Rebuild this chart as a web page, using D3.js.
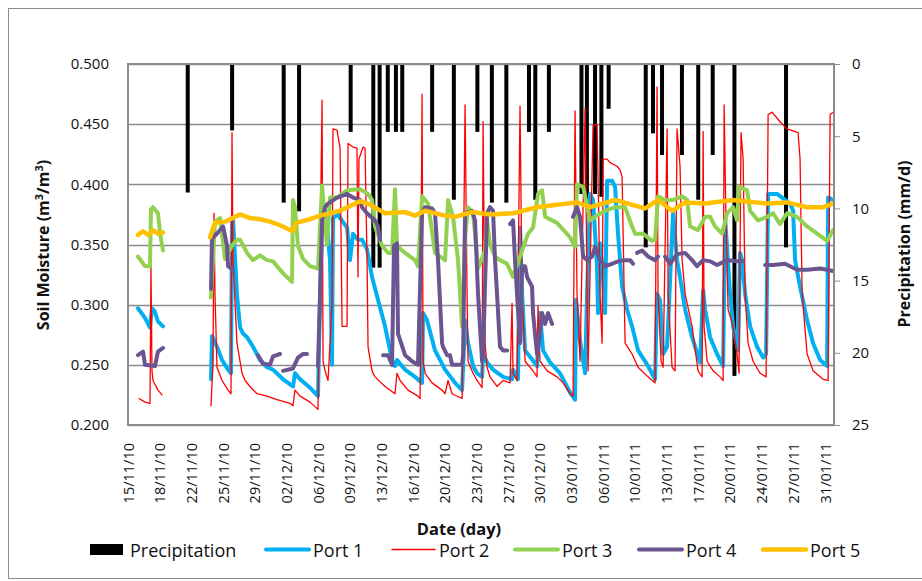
<!DOCTYPE html>
<html>
<head>
<meta charset="utf-8">
<script src="https://cdn.jsdelivr.net/npm/d3@7"></script>
<style>
  body { margin: 0; background: #fff; }
  svg { display: block; font-family: "Open Sans", "Noto Sans", sans-serif; }
</style>
</head>
<body>
<div id="chart"></div>
<script>
// days since 15/11/2010, value
var startDate = new Date(2010, 10, 15);
var endDate = new Date(2011, 1, 1);

var precipitation = [
  [6.6, 8.9], [11.5, 4.6], [17.2, 9.6], [18.9, 10.2], [24.6, 4.7], [27.1, 14.1], [27.8, 14.1],
  [28.7, 4.7], [29.6, 4.7], [30.3, 4.7], [33.6, 4.7], [36.0, 9.4], [38.6, 4.7], [40.2, 9.6],
  [41.8, 9.6], [44.3, 4.7], [45.0, 9.4], [46.5, 4.7], [50.1, 9.0], [50.7, 9.4], [51.6, 9.0],
  [52.3, 9.2], [53.1, 3.1], [57.2, 12.7], [58.0, 4.8], [59.0, 6.3], [61.2, 6.3], [63.0, 9.4],
  [64.6, 6.3], [67.0, 21.6], [72.7, 12.7]
];

var port1 = [
  [1.10,0.297],[1.88,0.289],[2.43,0.281],[2.65,0.297],[2.98,0.294],[3.31,0.286],[3.87,0.282], null,
  [9.17,0.238],[9.28,0.274],[9.83,0.265],[10.39,0.254],[11.05,0.246],[11.38,0.243],[11.49,0.370],[11.60,0.372],
  [12.04,0.308],[12.38,0.281],[12.71,0.276],[13.15,0.273],[13.81,0.265],[14.59,0.254],[15.36,0.248],[16.02,0.246],
  [17.13,0.238],[18.23,0.232],[18.45,0.243],[19.01,0.238],[20.11,0.231],[20.99,0.224],[21.22,0.309],[21.44,0.372],
  [21.77,0.378],[21.99,0.364],[22.32,0.337],[22.54,0.250],[22.65,0.372],[23.20,0.375],[23.43,0.372],[24.20,0.364],
  [24.53,0.337],[24.86,0.359],[25.41,0.354],[25.86,0.354],[26.41,0.346],[26.96,0.323],[27.62,0.304],[28.40,0.282],
  [29.17,0.254],[29.50,0.249],[29.72,0.254],[30.61,0.246],[31.71,0.240],[32.49,0.235],[32.60,0.293],[33.04,0.287],
  [33.92,0.262],[35.03,0.246],[36.13,0.235],[36.91,0.229],[37.24,0.287],[37.57,0.268],[38.12,0.249],[38.56,0.243],
  [39.12,0.240],[39.23,0.259],[39.67,0.252],[40.33,0.246],[41.44,0.240],[42.43,0.238],[42.54,0.246],[43.09,0.238],
  [43.31,0.364],[43.54,0.309],[43.87,0.262],[45.19,0.249],[45.52,0.293],[45.86,0.262],[46.63,0.252],[47.73,0.243],
  [48.84,0.227],[49.39,0.221],[49.50,0.304],[49.94,0.270],[50.50,0.243],[50.72,0.309],[51.05,0.392],[51.38,0.387],
  [51.82,0.332],[51.93,0.293],[52.15,0.351],[52.49,0.323],[52.71,0.293],[52.93,0.403],[53.48,0.403],[53.81,0.398],
  [54.14,0.359],[54.59,0.315],[55.14,0.296],[55.69,0.282],[56.35,0.262],[57.46,0.249],[58.23,0.238],[58.45,0.309],
  [58.78,0.304],[59.12,0.259],[59.56,0.265],[60.22,0.376],[60.66,0.337],[60.99,0.323],[61.55,0.296],[62.32,0.273],
  [63.20,0.252],[63.54,0.312],[63.76,0.296],[64.31,0.273],[65.08,0.259],[65.75,0.249],[65.97,0.372],[66.52,0.309],
  [66.85,0.282],[67.40,0.262],[67.62,0.343],[67.85,0.337],[68.18,0.309],[68.73,0.282],[69.50,0.265],[70.17,0.256],
  [70.50,0.259],[70.72,0.392],[71.71,0.392],[73.15,0.384],[73.48,0.378],[73.70,0.337],[74.25,0.315],[75.03,0.287],
  [75.69,0.268],[76.46,0.254],[77.24,0.249],[77.35,0.389],[77.90,0.387]
];

var port2 = [
  [1.22,0.222],[1.88,0.219],[2.43,0.218],[2.54,0.331],[2.65,0.245],[2.76,0.237],[3.31,0.229],[3.76,0.225], null,
  [9.17,0.216],[9.39,0.253],[9.50,0.376],[9.61,0.309],[9.83,0.248],[10.39,0.237],[11.05,0.229],[11.38,0.226],
  [11.49,0.443],[11.60,0.337],[12.04,0.268],[12.60,0.243],[12.93,0.237],[13.48,0.232],[14.25,0.226],[15.36,0.224],
  [16.46,0.221],[17.90,0.218],[18.23,0.216],[18.45,0.229],[19.01,0.224],[20.11,0.219],[20.99,0.213],[21.44,0.470],
  [21.55,0.253],[21.77,0.245],[22.10,0.237],[22.54,0.300],[22.65,0.446],[23.09,0.445],[23.43,0.430],[23.65,0.282],
  [24.20,0.282],[24.31,0.434],[24.86,0.431],[25.30,0.430],[25.41,0.323],[25.52,0.421],[25.97,0.431],[26.19,0.430],
  [26.41,0.337],[26.52,0.265],[26.96,0.245],[27.29,0.240],[28.40,0.232],[29.50,0.226],[29.72,0.243],[30.06,0.237],
  [30.94,0.229],[32.04,0.224],[32.27,0.222],[32.49,0.475],[32.60,0.253],[32.82,0.243],[33.59,0.235],[34.70,0.229],
  [35.03,0.226],[35.36,0.237],[35.80,0.226],[36.91,0.222],[37.24,0.466],[37.46,0.309],[37.57,0.253],[38.12,0.243],
  [38.56,0.237],[39.12,0.231],[39.23,0.452],[39.45,0.268],[39.67,0.248],[40.00,0.240],[40.77,0.232],[41.44,0.237],
  [42.21,0.235],[42.43,0.301],[42.54,0.243],[42.98,0.237],[43.31,0.465],[43.54,0.309],[43.87,0.253],[44.75,0.245],
  [45.19,0.240],[45.30,0.299],[45.52,0.253],[46.30,0.245],[47.40,0.240],[48.07,0.235],[48.84,0.226],[49.17,0.224],
  [49.39,0.461],[49.61,0.309],[49.94,0.253],[50.50,0.463],[50.72,0.309],[50.83,0.245],[51.38,0.449],[51.82,0.450],
  [51.93,0.406],[52.15,0.309],[52.38,0.268],[52.49,0.421],[52.93,0.421],[53.26,0.418],[54.03,0.415],[54.36,0.412],
  [54.59,0.406],[54.92,0.268],[55.69,0.259],[56.35,0.248],[57.46,0.240],[58.23,0.235],[58.45,0.481],[58.56,0.309],
  [58.90,0.253],[59.12,0.248],[59.56,0.446],[59.67,0.309],[60.11,0.248],[60.44,0.245],[60.66,0.446],[60.99,0.415],
  [61.22,0.337],[61.55,0.309],[62.32,0.282],[62.98,0.245],[63.43,0.240],[63.54,0.444],[63.65,0.282],[63.98,0.253],
  [64.64,0.245],[65.41,0.240],[65.75,0.237],[65.86,0.466],[66.08,0.364],[66.30,0.296],[66.85,0.282],[67.29,0.259],
  [67.51,0.243],[67.73,0.443],[67.96,0.421],[68.18,0.309],[68.51,0.268],[69.06,0.253],[69.83,0.243],[70.50,0.240],
  [70.72,0.458],[71.16,0.460],[72.04,0.452],[72.82,0.446],[74.03,0.443],[74.25,0.421],[74.48,0.309],[75.03,0.259],
  [75.69,0.245],[76.80,0.238],[77.35,0.237],[77.57,0.458],[77.90,0.460]
];

var port3 = [
  [1.10,0.340],[1.88,0.332],[2.43,0.332],[2.54,0.379],[2.76,0.381],[3.31,0.376],[3.54,0.359],[3.87,0.345], null,
  [9.17,0.306],[9.61,0.369],[10.17,0.372],[10.72,0.338],[11.49,0.349],[12.04,0.354],[12.38,0.354],[13.15,0.343],
  [13.81,0.337],[14.59,0.341],[15.36,0.337],[16.02,0.336],[17.13,0.326],[18.12,0.319],[18.23,0.387],[18.45,0.381],
  [18.78,0.349],[19.34,0.338],[20.11,0.332],[20.99,0.330],[21.44,0.399],[21.99,0.350],[22.32,0.389],[23.09,0.389],
  [24.20,0.395],[25.64,0.396],[26.52,0.392],[26.96,0.387],[27.29,0.365],[28.07,0.349],[28.73,0.343],[29.17,0.343],
  [29.50,0.396],[29.72,0.349],[30.61,0.343],[31.71,0.337],[32.04,0.332],[32.49,0.390],[33.15,0.384],[33.92,0.343],
  [35.03,0.337],[35.36,0.387],[35.91,0.373],[36.46,0.337],[36.91,0.282],[37.24,0.356],[37.57,0.381],[38.12,0.376],
  [38.34,0.359],[38.67,0.330],[39.45,0.345],[39.67,0.370],[40.00,0.350],[40.55,0.340],[41.10,0.337],[41.88,0.334],
  [42.54,0.323],[43.31,0.340],[44.20,0.359],[44.75,0.364],[45.30,0.392],[45.75,0.395],[46.08,0.373],[47.40,0.368],
  [48.84,0.356],[49.39,0.348],[49.61,0.400],[50.28,0.398],[51.05,0.370],[51.60,0.373],[52.71,0.378],[53.81,0.381],
  [54.92,0.381],[55.69,0.365],[56.02,0.359],[56.91,0.359],[57.90,0.353],[58.23,0.354],[58.56,0.390],[59.34,0.387],
  [60.22,0.387],[61.22,0.390],[61.77,0.387],[62.10,0.365],[62.98,0.362],[63.76,0.373],[64.31,0.373],[64.86,0.365],
  [65.64,0.359],[66.19,0.376],[66.85,0.381],[67.29,0.370],[67.51,0.398],[68.40,0.395],[68.73,0.378],[69.61,0.370],
  [70.61,0.373],[71.27,0.376],[72.04,0.367],[72.82,0.376],[73.92,0.373],[75.03,0.365],[76.13,0.359],[77.24,0.353],
  [77.90,0.362]
];

var port4 = [
  [1.10,0.258],[1.66,0.261],[1.88,0.250],[2.98,0.249],[3.31,0.261],[3.87,0.264], null,
  [9.17,0.313],[9.28,0.355],[9.94,0.360],[10.50,0.365],[10.94,0.349],[11.05,0.332],[11.60,0.329], null,
  [14.36,0.258],[14.92,0.251],[15.69,0.250],[16.02,0.257],[16.80,0.259], null,
  [17.13,0.245],[18.23,0.247],[18.78,0.256],[19.34,0.259],[19.78,0.259], null,
  [20.99,0.249],[21.22,0.308],[21.44,0.370],[21.77,0.381],[22.10,0.384],[23.09,0.389],[24.20,0.392],[24.86,0.389],
  [25.64,0.387],[25.86,0.381],[26.41,0.376],[27.29,0.370],[27.62,0.365],[27.85,0.354], null,
  [28.18,0.258],[28.73,0.258],[29.17,0.250],[29.39,0.349],[29.72,0.351],[29.83,0.276],[30.61,0.258],[31.38,0.253],
  [32.04,0.250],[32.49,0.376],[32.82,0.381],[33.59,0.380],[33.92,0.376],[34.25,0.337],[34.70,0.268],[34.81,0.265],
  [35.25,0.258],[35.58,0.258],[35.80,0.250],[36.91,0.250],[37.02,0.258],[37.24,0.376],[38.01,0.378],[38.34,0.370],
  [38.67,0.309],[39.12,0.253],[39.23,0.258],[39.67,0.376],[40.00,0.381],[40.33,0.378],[40.55,0.337],[40.77,0.309],
  [41.10,0.265],[41.44,0.262],[41.88,0.262], null,
  [42.21,0.367],[42.54,0.370],[42.76,0.337],[42.98,0.309],[43.31,0.268],[43.54,0.332],[43.87,0.332],[44.09,0.323],
  [44.64,0.315],[44.75,0.293],[45.19,0.259],[45.30,0.262],[45.75,0.293],[46.08,0.284],[46.41,0.293],[46.85,0.284], null,
  [49.17,0.373],[49.61,0.381],[49.94,0.373],[50.28,0.340],[50.72,0.337],[51.27,0.340],[51.60,0.348],[52.15,0.337],
  [52.71,0.332],[53.48,0.334],[54.14,0.336],[54.92,0.337],[55.47,0.337],[55.80,0.334], null,
  [56.24,0.343],[56.80,0.345],[57.46,0.340],[58.23,0.337],[58.56,0.340], null,
  [59.34,0.340],[59.89,0.334],[60.66,0.342],[61.55,0.343],[62.32,0.337],[62.87,0.332],[63.54,0.337],[64.31,0.336],
  [65.08,0.333],[66.19,0.337],[67.29,0.336],[67.96,0.336], null,
  [70.39,0.333],[71.27,0.333],[72.60,0.334],[73.92,0.329],[75.03,0.329],[76.46,0.330],[77.90,0.328]
];

var port5 = [
  [1.10,0.358],[1.66,0.361],[2.21,0.358],[2.76,0.362],[3.31,0.359],[3.87,0.360], null,
  [9.06,0.356],[9.61,0.368],[10.72,0.369],[12.38,0.375],[13.48,0.372],[14.59,0.371],[15.69,0.369],[16.80,0.366],
  [18.23,0.361],[18.56,0.368],[20.11,0.371],[21.22,0.374],[22.32,0.376],[23.43,0.378],[24.53,0.382],[25.64,0.386],
  [26.52,0.384],[28.40,0.376],[30.61,0.377],[31.71,0.374],[32.82,0.378],[35.03,0.374],[36.13,0.373],[38.01,0.377],
  [40.00,0.375],[42.54,0.376],[45.19,0.381],[47.40,0.383],[49.61,0.385],[51.05,0.381],[53.81,0.387],[57.13,0.380],
  [58.56,0.387],[60.11,0.378],[61.55,0.385],[63.76,0.384],[66.85,0.387],[70.61,0.384],[72.82,0.385],[75.03,0.381],
  [76.80,0.381],[77.90,0.384]
];

var seriesNames = ["Port 1", "Port 2", "Port 3", "Port 4", "Port 5"];
var seriesData = [port1, port2, port3, port4, port5];
var seriesColors = ["#00b0f0", "#ff0000", "#92d050", "#6b5591", "#ffc000"];
var seriesWidths = [4, 1.3, 4, 4, 4.5];

var moistureTicks = [0.2, 0.25, 0.3, 0.35, 0.4, 0.45, 0.5];
var precipTicks = [0, 5, 10, 15, 20, 25];

var width = 922, height = 581;
var margin = { top: 64, right: 88, bottom: 156, left: 128 };

function dayToDate(d) { return new Date(+startDate + d * 864e5); }

var svg = d3.select("#chart").append("svg")
  .attr("width", width)
  .attr("height", height);

// outer frame
svg.append("rect")
  .attr("x", 8.5).attr("y", 8.5)
  .attr("width", 940).attr("height", 570)
  .attr("fill", "none").attr("stroke", "#8c8c8c").attr("stroke-width", 1);

var x = d3.scaleTime()
  .domain([startDate, endDate])
  .range([margin.left, width - margin.right]);

var y = d3.scaleLinear()
  .domain([0.2, 0.5])
  .range([height - margin.bottom, margin.top]);

var yP = d3.scaleLinear()
  .domain([0, 25])
  .range([margin.top, height - margin.bottom]);

// gridlines
svg.append("g")
  .selectAll("line")
  .data(moistureTicks)
  .enter().append("line")
  .attr("x1", margin.left).attr("x2", width - margin.right)
  .attr("y1", d => Math.round(y(d)) + 0.5).attr("y2", d => Math.round(y(d)) + 0.5)
  .attr("stroke", "#8c8c8c").attr("stroke-width", 1.5);

// precipitation bars
svg.append("g")
  .selectAll("rect")
  .data(precipitation)
  .enter().append("rect")
  .attr("x", d => x(dayToDate(d[0])) - 2)
  .attr("y", yP(0))
  .attr("width", 4)
  .attr("height", d => yP(d[1]) - yP(0))
  .attr("fill", "#000");

// soil moisture lines
var line = d3.line()
  .defined(d => d !== null)
  .x(d => x(dayToDate(d[0])))
  .y(d => y(d[1]));

seriesData.forEach(function(data, i) {
  svg.append("path")
    .datum(data)
    .attr("d", line)
    .attr("fill", "none")
    .attr("stroke", seriesColors[i])
    .attr("stroke-width", seriesWidths[i])
    .attr("stroke-linejoin", "round")
    .attr("stroke-linecap", "round");
});

// plot border
svg.append("rect")
  .attr("x", margin.left).attr("y", margin.top)
  .attr("width", width - margin.left - margin.right)
  .attr("height", height - margin.top - margin.bottom)
  .attr("fill", "none").attr("stroke", "#8c8c8c").attr("stroke-width", 2);

// left axis
var leftAxis = svg.append("g")
  .attr("transform", `translate(${margin.left}, 0)`)
  .call(d3.axisLeft(y).tickValues(moistureTicks).tickFormat(d3.format(".3f")).tickSize(0).tickPadding(19));
leftAxis.select(".domain").remove();
leftAxis.selectAll("text").attr("font-size", 15).attr("fill", "#111").style("font-family", "Open Sans");

// right axis
var rightAxis = svg.append("g")
  .attr("transform", `translate(${width - margin.right}, 0)`)
  .call(d3.axisRight(yP).tickValues(precipTicks).tickSize(6).tickPadding(12));
rightAxis.select(".domain").attr("stroke", "#8c8c8c");
rightAxis.selectAll("line").attr("stroke", "#8c8c8c");
rightAxis.selectAll("text").attr("font-size", 15).attr("fill", "#111").style("font-family", "Open Sans");

// bottom axis
var dateTicks = d3.range(23).map(k => dayToDate(k * 3.5));
var bottomAxis = svg.append("g")
  .attr("transform", `translate(0, ${height - margin.bottom})`)
  .call(d3.axisBottom(x).tickValues(dateTicks).tickFormat(d3.timeFormat("%d/%m/%y")).tickSize(0));
bottomAxis.select(".domain").remove();
bottomAxis.selectAll("text")
  .attr("font-size", 14.5)
  .attr("fill", "#111")
  .style("font-family", "Open Sans")
  .attr("text-anchor", "end")
  .attr("dy", "0.35em")
  .attr("transform", "translate(0, 18) rotate(-90)")
  .attr("x", 0).attr("y", 0);

// axis titles
svg.append("text")
  .attr("transform", "translate(49, 245) rotate(-90)")
  .attr("text-anchor", "middle")
  .attr("font-size", 16).attr("font-weight", "bold").attr("fill", "#111")
  .html('Soil Moisture (m<tspan dy="-6" font-size="11">3</tspan><tspan dy="6">/m</tspan><tspan dy="-6" font-size="11">3</tspan><tspan dy="6">)</tspan>');

svg.append("text")
  .attr("transform", "translate(910, 244) rotate(-90)")
  .attr("text-anchor", "middle")
  .attr("font-size", 16).attr("font-weight", "bold").attr("fill", "#111")
  .text("Precipitation (mm/d)");

svg.append("text")
  .attr("x", 459).attr("y", 535)
  .attr("text-anchor", "middle")
  .attr("font-size", 16.5).attr("font-weight", "bold").attr("fill", "#111")
  .text("Date (day)");

// legend
var legendItems = [
  { name: "Precipitation", x: 90, type: "bar", color: "#000" }
].concat(seriesNames.map((n, i) => ({
  name: n, x: [266, 392, 515, 639, 763][i], type: "line", color: seriesColors[i], w: seriesWidths[i]
})));

var legend = svg.append("g");
legendItems.forEach(function(item) {
  var g = legend.append("g").attr("transform", `translate(${item.x}, 0)`);
  if (item.type === "bar") {
    g.append("rect").attr("x", 0).attr("y", 544).attr("width", 33).attr("height", 11).attr("fill", item.color);
  } else {
    g.append("line").attr("x1", 0).attr("x2", 43).attr("y1", 549.5).attr("y2", 549.5)
      .attr("stroke", item.color).attr("stroke-width", item.w).attr("stroke-linecap", "round");
  }
  g.append("text")
    .attr("x", item.type === "bar" ? 40 : 47).attr("y", 557)
    .attr("font-size", 18).attr("fill", "#111")
    .text(item.name);
});
</script>
</body>
</html>
